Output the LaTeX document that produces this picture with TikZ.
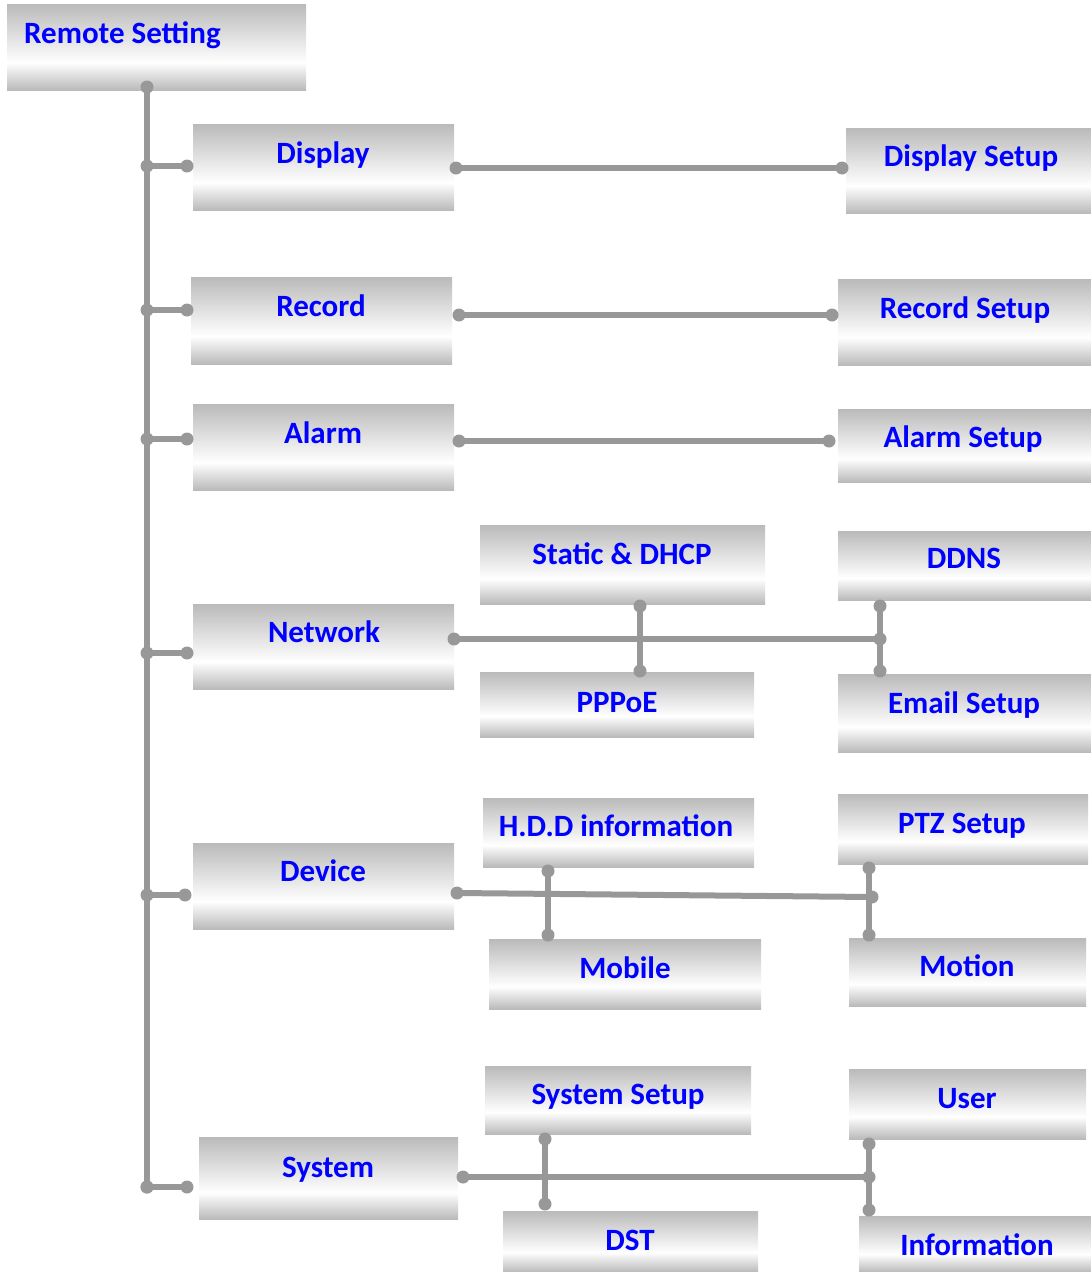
\documentclass[tikz,border=0pt]{standalone}
\usepackage{fontspec}
\newfontfamily\lblfont{Carlito}
\definecolor{lg}{RGB}{152,152,152}
\definecolor{bg}{RGB}{186,186,186}
\pgfdeclareverticalshading{boxsh}{100bp}{color(0bp)=(bg); color(25bp)=(bg); color(41bp)=(white); color(75bp)=(bg); color(100bp)=(bg)}
\tikzset{
  box/.style={shading=boxsh, inner sep=0pt, outer sep=0pt, draw=none},
  lbl/.style={font=\lblfont\bfseries\fontsize{31}{36}\selectfont, text=blue, inner sep=0pt, anchor=base},
  conn/.style={line width=6pt, draw=lg}
}
\newcommand\cn[2]{\draw[conn] (#1) -- (#2); \fill[lg] (#1) circle[radius=6.5pt] (#2) circle[radius=6.5pt];}
\newcommand\bx[5]{\node[box, minimum width=#4pt, minimum height=#5pt] (#1) at (#2,#3) {};}
\begin{document}
\begin{tikzpicture}[x=1pt,y=-1pt]
\useasboundingbox (0,0) rectangle (1091,1272);
% boxes
\bx{rs}{156.5}{47}{299}{86}
\bx{disp}{323.5}{167}{261}{86}
\bx{dset}{968.5}{170.5}{245}{85}
\bx{rec}{321.5}{320.5}{261}{87}
\bx{rset}{964.5}{322}{253}{86}
\bx{alm}{323.5}{447}{261}{86}
\bx{aset}{964.5}{445.5}{253}{73}
\bx{sdhcp}{622.5}{564.5}{285}{79}
\bx{ddns}{964.5}{565.5}{253}{69}
\bx{net}{323.5}{646.5}{261}{85}
\bx{pppoe}{617}{704.5}{274}{65}
\bx{email}{964.5}{713}{253}{78}
\bx{hdd}{618.5}{832.5}{271}{69}
\bx{ptz}{963}{829}{250}{70}
\bx{dev}{323.5}{886}{261}{86}
\bx{mob}{625}{974}{272}{70}
\bx{mot}{967.5}{972}{237}{68}
\bx{sset}{618}{1100}{266}{68}
\bx{user}{967.5}{1104}{237}{70}
\bx{sys}{328.5}{1178}{259}{82}
\bx{dst}{630.5}{1241.5}{255}{61}
\bx{info}{975}{1244}{232}{56}
% labels
\node[lbl, anchor=base west] (trs) at (24,43) {Remote Setting};
\node[lbl] (tdisp) at (323,163) {Display};
\node[lbl] (tdset) at (971,166) {Display Setup};
\node[lbl] (trec) at (321,316) {Record};
\node[lbl] (trset) at (965,318) {Record Setup};
\node[lbl] (talm) at (323,443) {Alarm};
\node[lbl] (taset) at (963,447) {Alarm Setup};
\node[lbl] (tsdhcp) at (622,564) {Static \& DHCP};
\node[lbl] (tddns) at (964,568) {DDNS};
\node[lbl] (tnet) at (324,642) {Network};
\node[lbl] (tpppoe) at (617,712) {PPPoE};
\node[lbl] (temail) at (964,713) {Email Setup};
\node[lbl] (thdd) at (616,836) {H.D.D information};
\node[lbl] (tptz) at (962,833) {PTZ Setup};
\node[lbl] (tdev) at (323,881) {Device};
\node[lbl] (tmob) at (625,978) {Mobile};
\node[lbl] (tmot) at (967,976) {Motion};
\node[lbl] (tsset) at (618,1104) {System Setup};
\node[lbl] (tuser) at (967,1108) {User};
\node[lbl] (tsys) at (328,1177) {System};
\node[lbl] (tdst) at (630,1250) {DST};
\node[lbl] (tinfo) at (977,1255) {Information};
% connector end points
\coordinate (t0) at (147,87);
\coordinate (t1) at (147,1187);
\coordinate (jd) at (147,166);   \coordinate (bd) at (187,166);
\coordinate (jr) at (147,310);   \coordinate (br) at (187,310);
\coordinate (ja) at (147,439);   \coordinate (ba) at (187,439);
\coordinate (jn) at (147,653);   \coordinate (bn) at (187,653);
\coordinate (jv) at (147,895);   \coordinate (bv) at (185,895);
\coordinate (bs) at (187,1187);
\coordinate (dR) at (456,168);   \coordinate (dL) at (842,168);
\coordinate (rR) at (459,315);   \coordinate (rL) at (832,315);
\coordinate (aR) at (459,441);   \coordinate (aL) at (829,441);
\coordinate (nR) at (454,639);   \coordinate (nJ) at (880,639);
\coordinate (n1a) at (640,606);  \coordinate (n1b) at (640,671);
\coordinate (n2a) at (880,606);  \coordinate (n2b) at (880,671);
\coordinate (vR) at (457,893);   \coordinate (vJ) at (872,897);
\coordinate (v1a) at (548,871);  \coordinate (v1b) at (548,935);
\coordinate (v2a) at (869,868);  \coordinate (v2b) at (869,935);
\coordinate (sR) at (463,1177);  \coordinate (sJ) at (869,1177);
\coordinate (s1a) at (545,1139); \coordinate (s1b) at (545,1204);
\coordinate (s2a) at (869,1144); \coordinate (s2b) at (869,1210);
% connectors
\cn{t0}{t1}
\cn{jd}{bd}
\cn{jr}{br}
\cn{ja}{ba}
\cn{jn}{bn}
\cn{jv}{bv}
\cn{t1}{bs}
\cn{dR}{dL}
\cn{rR}{rL}
\cn{aR}{aL}
\cn{nR}{nJ}
\cn{n1a}{n1b}
\cn{n2a}{n2b}
\cn{vR}{vJ}
\cn{v1a}{v1b}
\cn{v2a}{v2b}
\cn{sR}{sJ}
\cn{s1a}{s1b}
\cn{s2a}{s2b}
\end{tikzpicture}
\end{document}
